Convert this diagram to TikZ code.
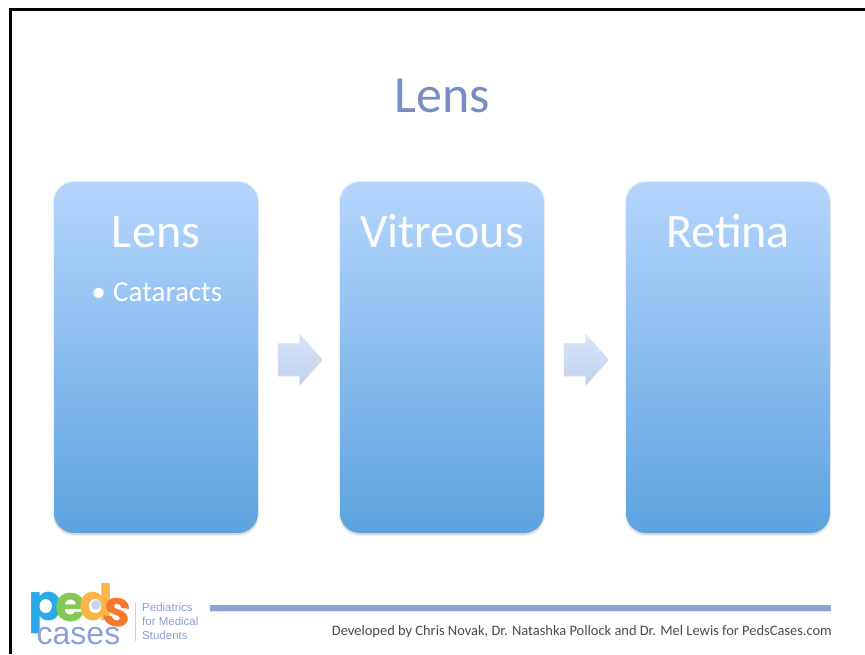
\documentclass[tikz,border=0pt]{standalone}
\usepackage{fontspec}
\setmainfont{Carlito}
\newfontfamily\logofont{Poppins}
\newfontfamily\tagfont{Liberation Sans}
\usetikzlibrary{positioning,shapes.arrows,shadows}
\definecolor{boxtop}{RGB}{180,213,253}
\definecolor{boxbottom}{RGB}{92,163,224}
\definecolor{arrowtop}{RGB}{217,229,246}
\definecolor{arrowbottom}{RGB}{190,209,237}
\definecolor{titleblue}{RGB}{121,141,196}
\definecolor{rulecol}{RGB}{143,162,211}
\definecolor{footgrey}{RGB}{70,74,82}
\definecolor{pedcyan}{RGB}{40,170,230}
\definecolor{pedgreen}{RGB}{130,200,85}
\definecolor{pedyellow}{RGB}{252,182,72}
\definecolor{pedorange}{RGB}{245,120,45}
\definecolor{casesblue}{RGB}{140,160,215}
\tikzset{
  softshadow/.style={
    general shadow={shadow xshift=0pt,shadow yshift=-1pt,shadow scale=1.012,fill=black,opacity=.05},
    general shadow={shadow xshift=0pt,shadow yshift=-2pt,fill=black,opacity=.10}},
  stagebox/.style={rectangle,rounded corners=20pt,minimum width=204pt,minimum height=351pt,
    outer sep=0pt,inner sep=0pt,top color=boxtop,bottom color=boxbottom,softshadow},
  stagearrow/.style={single arrow,minimum height=44pt,inner xsep=0pt,inner ysep=15.5pt,outer sep=0pt,
    single arrow head extend=9.5pt,single arrow tip angle=97,single arrow head indent=0pt,
    top color=arrowtop,bottom color=arrowbottom,softshadow},
  stagetitle/.style={anchor=base,text=white,font=\fontsize{48}{48}\selectfont},
  stageitem/.style={anchor=base west,inner sep=0pt,text=white,font=\fontsize{29}{29}\selectfont},
  logoletter/.style={inner sep=0pt,font=\logofont\bfseries\fontsize{50}{50}\selectfont},
  tagline/.style={anchor=base west,inner sep=0pt,text=casesblue,font=\tagfont\fontsize{11.5}{11.5}\selectfont}
}
\begin{document}
\begin{tikzpicture}[x=1pt,y=1pt]
  \useasboundingbox (0,0) rectangle (865,654);
  % Slide frame
  \coordinate (framebottom) at (10,0);
  \coordinate (framecorner) at (10,644);
  \coordinate (frameright) at (865,644);
  \draw[line width=3pt,black] (framebottom) -- (framecorner) -- (frameright);
  % Title
  \node[anchor=base,text=titleblue,font=\fontsize{52}{52}\selectfont] (title) at (442,541) {Lens};
  % Three stages
  \node[stagebox] (lens) at (156,296.5) {};
  \node[stagebox,right=82pt of lens] (vitreous) {};
  \node[stagebox,right=82pt of vitreous] (retina) {};
  \node[stagetitle] (lenstitle) at ([yshift=-66pt]lens.north) {Lens};
  \node[stagetitle] (vitreoustitle) at ([yshift=-66pt]vitreous.north) {Vitreous};
  \node[stagetitle] (retinatitle) at ([yshift=-66pt]retina.north) {Retina};
  \node[stageitem] (cataracts) at ([xshift=-43pt,yshift=-120pt]lens.north) {Cataracts};
  \node[stageitem,left=7pt of cataracts.base west,anchor=base east] (bullet) {•};
  % Block arrows
  \node[stagearrow,right=20pt of lens,yshift=-1.5pt] (arrowa) {};
  \node[stagearrow,right=20pt of vitreous,yshift=-1.5pt] (arrowb) {};
  % Footer
  \coordinate (rulestart) at (210,46);
  \coordinate (ruleend) at (831,46);
  \draw[line width=5.5pt,black!12] ([yshift=-1.5pt]rulestart) -- ([yshift=-1.5pt]ruleend);
  \draw[line width=5.5pt,rulecol] (rulestart) -- (ruleend);
  \node[anchor=base east,inner sep=0pt,text=footgrey,font=\fontsize{14.45}{14.45}\selectfont] (credit) at (832,19) {Developed by Chris Novak, Dr. Natashka Pollock and Dr. Mel Lewis for PedsCases.com};
  % Logo
  \node[logoletter,text=pedcyan] (logop) at (45,41) {p};
  \node[logoletter,text=pedgreen] (logoe) at (71,46) {e};
  \node[logoletter,text=pedyellow] (logod) at (96,52) {d};
  \node[logoletter,text=pedorange,rotate=-8] (logos) at (117,41) {s};
  \node[circle,minimum size=10pt,inner sep=0pt,fill=casesblue!45] (logoglobe) at (96,49) {};
  \node[inner sep=0pt,text=casesblue,font=\tagfont\fontsize{32}{32}\selectfont] (logocases) at (78.5,18) {cases};
  \coordinate (septop) at (135,52);
  \coordinate (sepbottom) at (135,13);
  \draw[casesblue!50,line width=.8pt] (septop) -- (sepbottom);
  \node[tagline] (tagone) at (142,43) {Pediatrics};
  \node[tagline] (tagtwo) at (142,29) {for Medical};
  \node[tagline] (tagthree) at (142,15) {Students};
\end{tikzpicture}
\end{document}
